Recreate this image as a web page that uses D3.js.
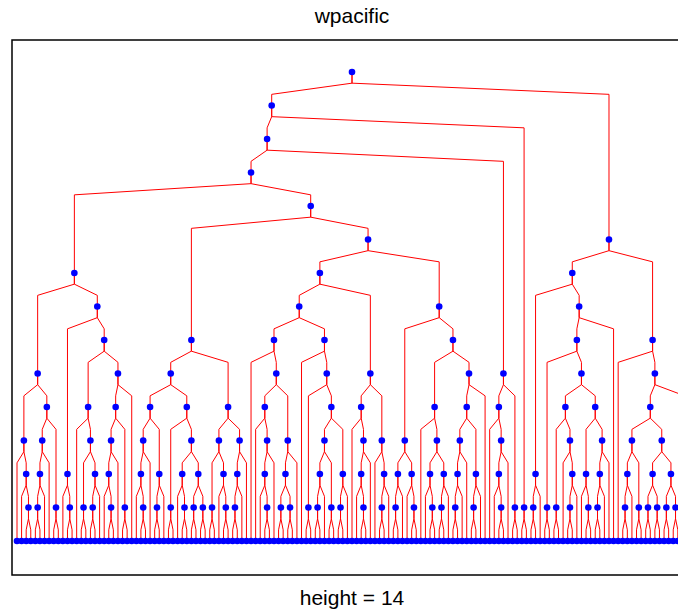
<!DOCTYPE html>
<html>
<head>
<meta charset="utf-8">
<script src="https://cdn.jsdelivr.net/npm/d3@7"></script>
<style>
body { margin: 0; background: #fff; overflow: hidden; }
text { font-family: "Liberation Sans", Arial, Helvetica, sans-serif; }
</style>
</head>
<body>
<script>
var w = 678, h = 610;
var title = 'wpacific';

// tree topology, left to right: 0 = terminal node, [a, b] = split
var subP = [[0, [0, [0, 0]]], [[[[0, 0], 0], 0], [0, 0]]];
var subQ = [[0, [0, 0]], [[0, [[0, 0], [[0, 0], 0]]], [[[[0, [0, 0]], 0], [0, 0]], 0]]];
var subD = [subP, subQ];
var subF = [
  [[[[0, [0, 0]], 0], [[0, 0], 0]], [[0, 0], [[0, [0, 0]], [[0, 0], [0, 0]]]]],
  [[[0, 0], [0, [0, 0]]], [[[0, 0], 0], 0]]
];
var subH = [
  [
    [0, [[0, [[0, [0, 0]], 0]], [[[0, 0], [0, 0]], 0]]],
    [0, [[0, 0], [[[[0, 0], 0], [0, 0]], [[0, 0], 0]]]]
  ],
  [[0, [[0, [0, 0]], 0]], [0, [[0, 0], 0]]]
];
var subI = [
  [[[0, 0], 0], [0, [0, 0]]],
  [[0, [[0, [0, 0]], [[0, 0], 0]]], [[[[[0, 0], 0], 0], [[0, 0], 0]], 0]]
];
var subC = [[0, [[0, [0, 0]], 0]], [0, 0]];
var subB1 = [[[0, 0], 0], [[[0, 0], [[[0, 0], [0, [[0, 0], 0]]], [[0, [0, 0]], [[[0, 0], 0], 0]]]], 0]];
var subB2 = [0, [[[[[0, 0], 0], [0, 0]], [[[0, 0], [0, 0]], [[0, 0], [0, 0]]]], [0, 0]]];

var tree = [[[[subD, [subF, [subH, subI]]], subC], [0, 0]], [subB1, subB2]];

var box = { left: 12, top: 40, right: 692, bottom: 575 };

var svg = d3.select('body').append('svg').attr('width', w).attr('height', h);

var root = d3.hierarchy(tree, function (d) { return Array.isArray(d) ? d : null; });
var leaves = root.leaves();
leaves.forEach(function (d, i) { d.idx = i; });
// node x = mean of its leaves
root.eachAfter(function (d) {
  if (d.children) {
    var l = d.leaves();
    d.idx = d3.mean(l, function (e) { return e.idx; });
  }
});

var x = d3.scaleLinear().domain([0, leaves.length - 1]).range([17, 687]);
var y = d3.scaleLinear().domain([0, root.height]).range([541, 72]);
var step = y(0) - y(1);

svg.append('rect')
  .attr('x', box.left).attr('y', box.top)
  .attr('width', box.right - box.left).attr('height', box.bottom - box.top)
  .style('fill', 'none').style('stroke', '#000').style('stroke-width', 1.5);

var line = d3.line();
svg.append('g').selectAll('path')
  .data(root.links())
  .enter()
  .append('path')
  .attr('d', function (l) {
    var px = x(l.source.idx), py = y(l.source.height);
    var cx = x(l.target.idx), cy = y(l.target.height);
    return line([[px, py], [px, py + step / 3], [cx, py + 2 * step / 3], [cx, cy]]);
  })
  .style('fill', 'none')
  .style('stroke', '#ff0000')
  .style('stroke-width', 1);

svg.append('g').selectAll('circle')
  .data(root.descendants())
  .enter()
  .append('circle')
  .attr('cx', function (d) { return x(d.idx); })
  .attr('cy', function (d) { return y(d.height); })
  .attr('r', 3.3)
  .style('fill', '#0000ff');

svg.append('text')
  .text(title)
  .attr('x', 352).attr('y', 23)
  .attr('text-anchor', 'middle')
  .style('font-size', '21px');

svg.append('text')
  .text('height = ' + root.height)
  .attr('x', 352).attr('y', 605)
  .attr('text-anchor', 'middle')
  .style('font-size', '21px');
</script>
</body>
</html>
